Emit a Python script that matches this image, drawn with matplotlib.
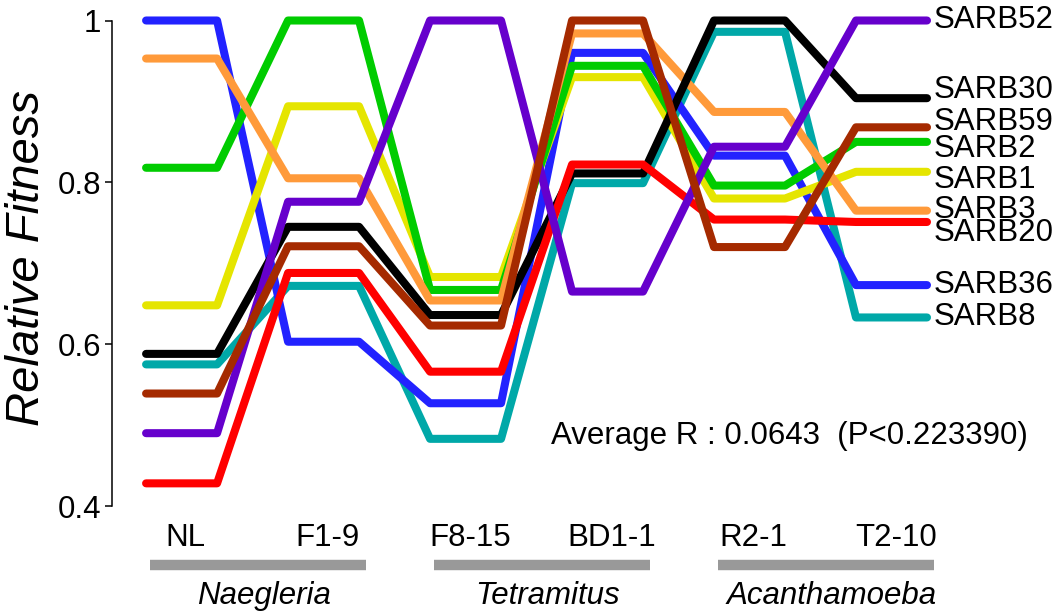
#!/usr/bin/env python3
"""Relative fitness of SARB strains across amoeba hosts (step lines)."""

import matplotlib

matplotlib.use("Agg")
import matplotlib.pyplot as plt

plt.rcParams["font.family"] = ["Liberation Sans", "DejaVu Sans"]

# hosts along the x axis
hosts = ["NL", "F1-9", "F8-15", "BD1-1", "R2-1", "T2-10"]
groups = ["Naegleria", "Tetramitus", "Acanthamoeba"]

# relative fitness per strain, one value per host
sarb8 = [0.575, 0.672, 0.483, 0.799, 0.986, 0.633]
sarb36 = [1.000, 0.603, 0.527, 0.960, 0.833, 0.673]
sarb1 = [0.648, 0.894, 0.683, 0.930, 0.780, 0.813]
sarb2 = [0.818, 1.000, 0.667, 0.944, 0.796, 0.850]
sarb3 = [0.953, 0.805, 0.654, 0.984, 0.887, 0.765]
sarb30 = [0.588, 0.745, 0.636, 0.811, 1.000, 0.904]
sarb20 = [0.428, 0.688, 0.566, 0.822, 0.754, 0.751]
sarb52 = [0.490, 0.776, 1.000, 0.665, 0.844, 1.000]
sarb59 = [0.539, 0.721, 0.623, 1.000, 0.720, 0.868]

strains = [
    ("SARB8", sarb8, "#00a8a8", 0),
    ("SARB36", sarb36, "#2222ff", 0),
    ("SARB1", sarb1, "#e5e500", -8),
    ("SARB2", sarb2, "#00cc00", -7),
    ("SARB3", sarb3, "#ff9a3a", 1),
    ("SARB30", sarb30, "#000000", 8),
    ("SARB20", sarb20, "#ff0000", -11),
    ("SARB52", sarb52, "#6600cc", 0),
    ("SARB59", sarb59, "#a52a00", 5),
]

stat_text = "Average R : 0.0643  (P<0.223390)"

FS = 22.5
HALF = 0.25  # half width of the flat segment per host

fig = plt.figure(figsize=(10.62, 6.13), dpi=100)
ax = fig.add_axes([112 / 1062, 107 / 613, 815 / 1062, 485.5 / 613])
ax.set_xlim(-0.49, 5.25)
ax.set_ylim(0.4, 1.0)

for name, vals, color, nudge in strains:
    xs, ys = [], []
    for i, v in enumerate(vals):
        xs += [i - HALF, i + HALF]
        ys += [v, v]
    ax.plot(xs, ys, color=color, linewidth=5.8, solid_capstyle="round",
            solid_joinstyle="round", clip_on=False)
    ax.annotate(name, (xs[-1], ys[-1]), textcoords="offset points",
                xytext=(5, nudge * 0.72), va="center", ha="left",
                fontsize=FS, annotation_clip=False)

# axis styling
for side in ["top", "right", "bottom"]:
    ax.spines[side].set_visible(False)
ax.spines["left"].set_linewidth(1.1)
ax.set_yticks([0.4, 0.6, 0.8, 1.0])
ax.set_yticklabels(["0.4", "0.6", "0.8", "1"])
ax.tick_params(axis="y", length=5, width=1.1, pad=3, labelsize=FS)
ax.set_xticks([])

fig.text(27 / 1062, 1 - 258 / 613, "Relative Fitness", rotation=90,
         ha="center", va="center", fontsize=34, style="italic")

# host labels, group bars and group names under the plot
trans = ax.get_xaxis_transform()
for i, h in enumerate(hosts):
    ax.text(i + 0.03, -0.066, h, transform=trans, ha="center", va="center",
            fontsize=FS)
for g, name in enumerate(groups):
    x0, x1 = 2 * g - 0.22, 2 * g + 1 + 0.3
    ax.plot([x0, x1], [-0.1215, -0.1215], transform=trans, color="#999999",
            linewidth=7.5, solid_capstyle="butt", clip_on=False)
    ax.text((x0 + x1) / 2 + 0.04, -0.185, name, transform=trans, ha="center",
            va="center", fontsize=FS, style="italic")

ax.text(2.6, 0.486, stat_text, ha="left", va="center", fontsize=FS)

fig.savefig("out.png", dpi=100)
